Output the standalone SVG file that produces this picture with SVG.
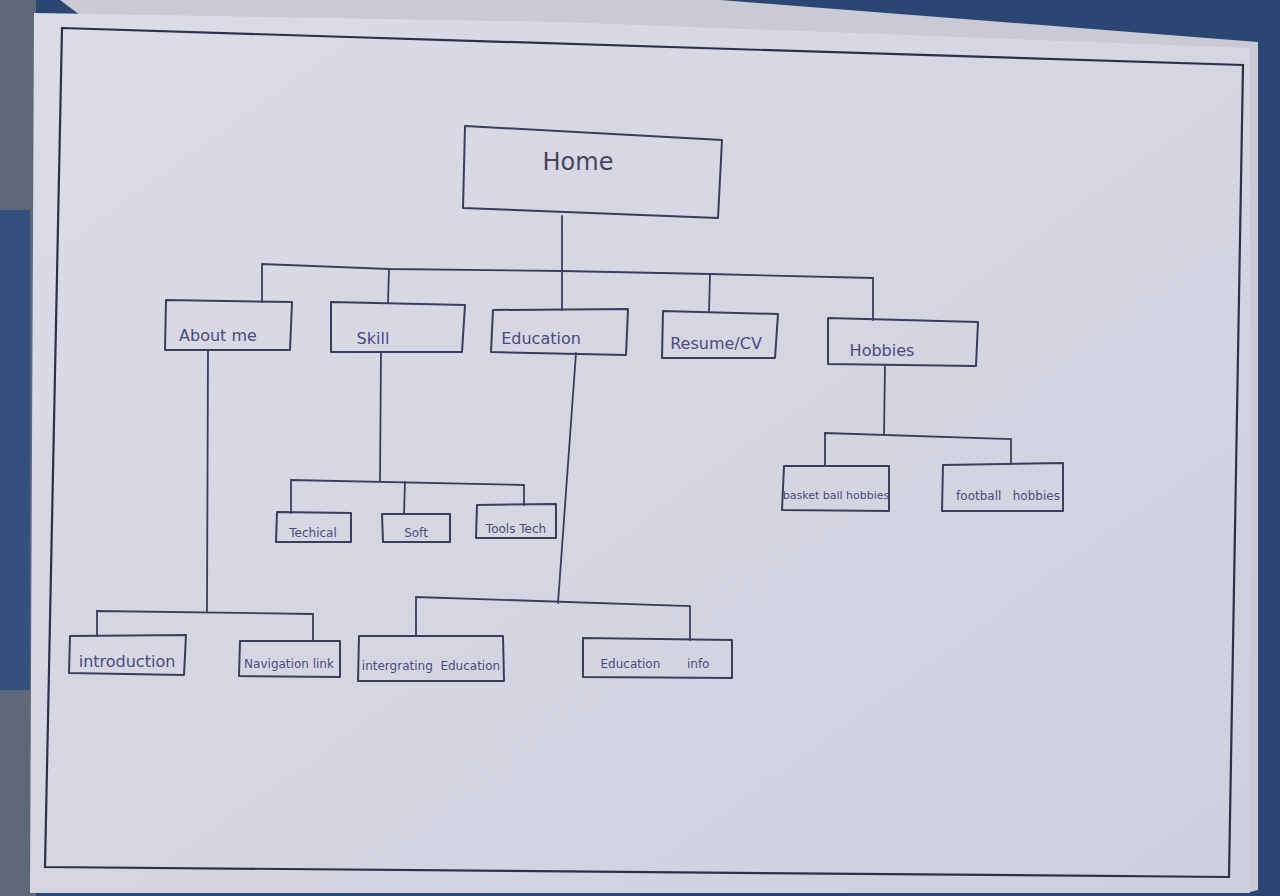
<svg xmlns="http://www.w3.org/2000/svg" width="1280" height="896" viewBox="0 0 1280 896">
<defs>
<linearGradient id="paperG" x1="0" y1="0" x2="1" y2="1">
<stop offset="0" stop-color="#dcdce8"/>
<stop offset="1" stop-color="#cfd0dd"/>
</linearGradient>
<style>
.box{fill:none;stroke:#3b3d5c;stroke-width:2;stroke-linejoin:round}
.ln{fill:none;stroke:#3b3d5c;stroke-width:1.8;stroke-linecap:round}
.frame{fill:none;stroke:#2e3048;stroke-width:2.2}
.t{font-family:"DejaVu Sans","Liberation Sans",sans-serif;fill:#4a4a82;white-space:pre}
.big{font-size:24px;fill:#45465e}
.med{font-size:16px}
.sm{font-size:12px}
.xs{font-size:11px}
</style>
</defs>
<!-- photo background -->
<rect x="0" y="0" width="1280" height="896" fill="#2b4673"/>
<rect x="0" y="0" width="36" height="896" fill="#5e6775"/>
<rect x="0" y="210" width="30" height="480" fill="#34507e"/>
<!-- paper sheets -->
<polygon points="60,0 720,0 1258,42 1258,890 1250,892" fill="#c9cad6"/>
<polygon points="34,13 560,22 1250,48 1250,893 30,893" fill="url(#paperG)"/>
<!-- hand-drawn frame -->
<polygon class="frame" points="62,28 1243,65 1229,877 45,867"/>

<g id="connectors">
<path class="ln" d="M562,216 L562,271"/>
<path class="ln" d="M262,302 L262,264 L389,269 L562,271 L710,274 L873,278 L873,320"/>
<path class="ln" d="M389,269 L388,303"/>
<path class="ln" d="M562,271 L562,310"/>
<path class="ln" d="M710,274 L709,312"/>
<path class="ln" d="M208,350 L207,611"/>
<path class="ln" d="M97,636 L97,611 L313,614 L313,641"/>
<path class="ln" d="M381,352 L380,481"/>
<path class="ln" d="M291,513 L291,480 L524,485 L524,505"/>
<path class="ln" d="M405,482 L404,514"/>
<path class="ln" d="M576,353 L558,603"/>
<path class="ln" d="M416,636 L416,597 L690,606 L690,640"/>
<path class="ln" d="M885,366 L884,434"/>
<path class="ln" d="M825,466 L825,433 L1011,439 L1011,464"/>
</g>

<g id="home">
<polygon class="box" points="465,126 722,140 718,218 463,208"/>
<text class="t big" x="578" y="170" text-anchor="middle">Home</text>
</g>
<g id="about">
<polygon class="box" points="166,300 292,302 290,350 165,350"/>
<text class="t med" x="218" y="341" text-anchor="middle">About me</text>
</g>
<g id="skill">
<polygon class="box" points="331,302 465,305 462,352 331,352"/>
<text class="t med" x="373" y="344" text-anchor="middle">Skill</text>
</g>
<g id="education">
<polygon class="box" points="493,310 628,309 626,355 491,352"/>
<text class="t med" x="541" y="344" text-anchor="middle">Education</text>
</g>
<g id="resume">
<polygon class="box" points="663,311 778,314 775,358 662,358"/>
<text class="t med" x="716" y="349" text-anchor="middle">Resume/CV</text>
</g>
<g id="hobbies">
<polygon class="box" points="828,318 978,322 976,366 828,364"/>
<text class="t med" x="882" y="356" text-anchor="middle">Hobbies</text>
</g>
<g id="basketball">
<polygon class="box" points="784,466 889,466 889,511 782,510"/>
<text class="t xs" x="836" y="499" text-anchor="middle">basket ball hobbies</text>
</g>
<g id="football">
<polygon class="box" points="943,465 1063,463 1063,511 942,511"/>
<text class="t sm" x="1008" y="500" text-anchor="middle">football   hobbies</text>
</g>
<g id="technical">
<polygon class="box" points="277,512 351,513 351,542 276,542"/>
<text class="t sm" x="313" y="537" text-anchor="middle">Techical</text>
</g>
<g id="soft">
<polygon class="box" points="382,514 450,514 450,542 383,542"/>
<text class="t sm" x="416" y="537" text-anchor="middle">Soft</text>
</g>
<g id="tools">
<polygon class="box" points="477,505 556,504 556,538 476,538"/>
<text class="t sm" x="516" y="533" text-anchor="middle">Tools Tech</text>
</g>
<g id="introduction">
<polygon class="box" points="70,636 186,635 184,675 69,673"/>
<text class="t med" x="127" y="667" text-anchor="middle">introduction</text>
</g>
<g id="navigation">
<polygon class="box" points="240,641 340,641 340,677 239,676"/>
<text class="t sm" x="289" y="668" text-anchor="middle">Navigation link</text>
</g>
<g id="integrating">
<polygon class="box" points="359,636 503,636 504,681 358,681"/>
<text class="t sm" x="431" y="670" text-anchor="middle">intergrating  Education</text>
</g>
<g id="eduinfo">
<polygon class="box" points="583,638 732,640 732,678 583,677"/>
<text class="t sm" x="655" y="668" text-anchor="middle">Education       info</text>
</g>
</svg>
